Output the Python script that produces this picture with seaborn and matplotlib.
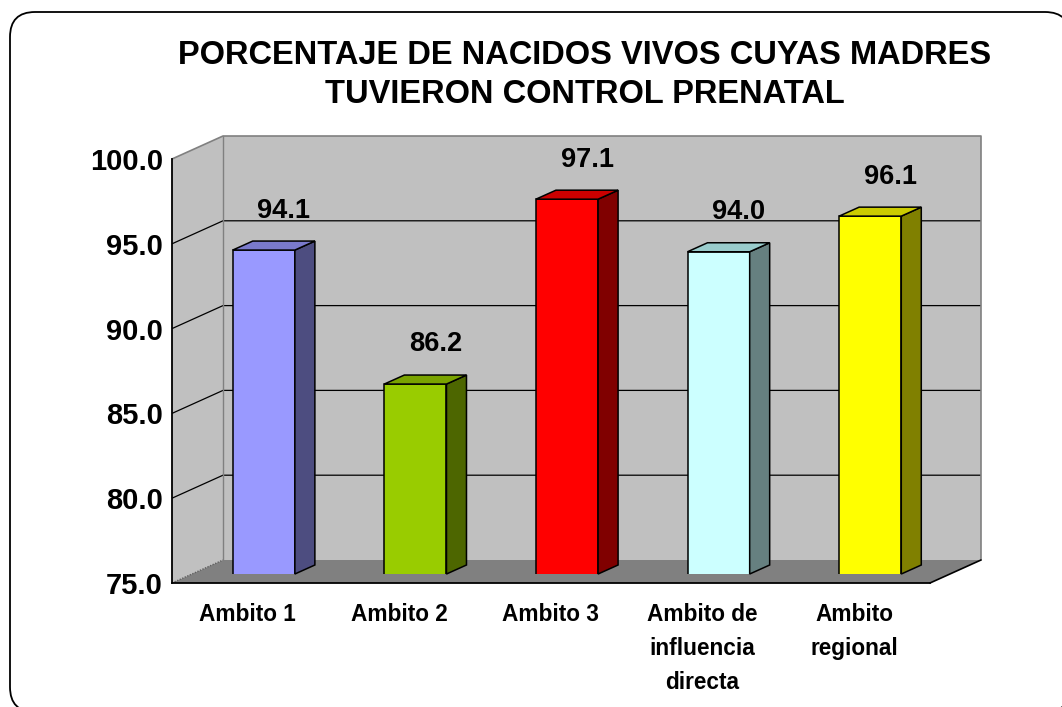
import numpy as np
import matplotlib
matplotlib.use("Agg")
import matplotlib.pyplot as plt
import seaborn as sns
from matplotlib.patches import Polygon, FancyBboxPatch

# ---------------- data ----------------
categories = ["Ambito 1", "Ambito 2", "Ambito 3",
              "Ambito de\ninfluencia\ndirecta", "Ambito\nregional"]
values = [94.1, 86.2, 97.1, 94.0, 96.1]
front_colors = ["#9999FF", "#99CC00", "#FF0000", "#CCFFFF", "#FFFF00"]
side_colors = ["#4D4D80", "#4D6600", "#800000", "#668080", "#808000"]
top_colors = ["#7A7ACC", "#7AA300", "#CC0000", "#99CCCC", "#CCCC00"]
y_ticks = [75.0, 80.0, 85.0, 90.0, 95.0, 100.0]
title_lines = ["PORCENTAJE DE NACIDOS VIVOS CUYAS MADRES",
               "TUVIERON CONTROL PRENATAL"]

sns.set_style("white")
plt.rcParams["font.family"] = ["Liberation Sans", "DejaVu Sans"]
plt.rcParams["text.color"] = "black"
plt.rcParams["xtick.color"] = "black"
plt.rcParams["ytick.color"] = "black"
plt.rcParams["xtick.labelcolor"] = "black"
plt.rcParams["ytick.labelcolor"] = "black"
plt.rcParams["axes.labelcolor"] = "black"

W, H = 1062, 707
fig = plt.figure(figsize=(W / 100, H / 100), dpi=100)

# ---------------- frame ----------------
fr = fig.add_axes([0, 0, 1, 1], zorder=-5)
fr.set_xlim(0, W)
fr.set_ylim(H, 0)
fr.axis("off")
fr.add_patch(FancyBboxPatch((14, 16), 1060, 700,
                            boxstyle="round,pad=0,rounding_size=25",
                            fc="black", ec="black", lw=0))
fr.add_patch(FancyBboxPatch((10, 12), 1060, 700,
                            boxstyle="round,pad=0,rounding_size=25",
                            fc="white", ec="black", lw=1.3))

# ---------------- geometry ----------------
X0, X1 = 172, 930     # front plane x pixels
YT, YB = 159, 583     # front plane y pixels (100 / 75)
ymin, ymax = y_ticks[0], y_ticks[-1]
ncat = len(categories)
ux = (X1 - X0) / ncat
uy = (YB - YT) / (ymax - ymin)
DX, DY = 51 / ux, 23 / uy          # full depth offset (data units)
BSX, BSY = 16, 9                    # bar plane offset in pixels
BDX, BDY = 20 / ux, 9 / uy          # bar depth (data units)

ax = fig.add_axes([X0 / W, 1 - YB / H, (X1 - X0) / W, (YB - YT) / H], zorder=1)
ax.set_xlim(-0.5, ncat - 0.5)
ax.set_ylim(ymin, ymax)
ax.patch.set_alpha(0)

xl, xr = -0.5, ncat - 0.5
wall = "#C0C0C0"
edge_gray = "#808080"
# back wall
ax.add_patch(Polygon([(xl + DX, ymin + DY), (xr + DX, ymin + DY),
                      (xr + DX, ymax + DY), (xl + DX, ymax + DY)],
                     closed=True, fc=wall, ec="none", clip_on=False, zorder=0))
# left wall
ax.add_patch(Polygon([(xl, ymin), (xl + DX, ymin + DY),
                      (xl + DX, ymax + DY), (xl, ymax)],
                     closed=True, fc=wall, ec="none", clip_on=False, zorder=0))
# floor
ax.add_patch(Polygon([(xl, ymin), (xr, ymin), (xr + DX, ymin + DY), (xl + DX, ymin + DY)],
                     closed=True, fc="#808080", ec="none", clip_on=False, zorder=0.5))
# gridlines
for v in y_ticks[1:-1]:
    ax.plot([xl, xl + DX, xr + DX], [v, v + DY, v + DY], color="black", lw=0.9,
            clip_on=False, zorder=0.6, solid_capstyle="butt")
# wall edges
ax.plot([xl, xl + DX, xr + DX, xr + DX], [ymax, ymax + DY, ymax + DY, ymin + DY],
        color=edge_gray, lw=1.2, clip_on=False, zorder=0.6)
ax.plot([xl + DX, xl + DX], [ymin + DY, ymax + DY], color=edge_gray, lw=1.0,
        clip_on=False, zorder=0.6)
ax.plot([xl, xl + DX], [ymin, ymin + DY], color="#606060", lw=1.0, ls=(0, (1, 1)),
        clip_on=False, zorder=0.6)
ax.plot([xr, xr + DX], [ymin, ymin + DY], color="black", lw=1.2,
        clip_on=False, zorder=0.7)

# axes spines & ticks
for s in ["top", "right"]:
    ax.spines[s].set_visible(False)
for s in ["left", "bottom"]:
    ax.spines[s].set_color("black")
    ax.spines[s].set_linewidth(1.3)
ax.set_yticks(y_ticks, labels=[f"{t:.1f}" for t in y_ticks])
ax.tick_params(axis="y", direction="out", length=4.5, width=1.1, color="black",
               labelcolor="black", pad=2, labelsize=21)
for lab in ax.get_yticklabels():
    lab.set_fontweight("bold")
ax.set_xticks(np.arange(-0.5, ncat, 1.0), labels=[""] * (ncat + 1))
ax.tick_params(axis="x", which="major", direction="out", length=6, width=1.1, color="black")
ax.set_xticks(np.arange(ncat), labels=categories, minor=True)
ax.tick_params(axis="x", which="minor", length=0, pad=14.5, labelsize=16.3,
               labelcolor="black")
for lab in ax.get_xticklabels(minor=True):
    lab.set_fontweight("bold")
    lab.set_linespacing(1.6)
    lab.set_verticalalignment("top")
ax.grid(False)

# ---------------- bars (seaborn) ----------------
bx = fig.add_axes([(X0 + BSX) / W, 1 - (YB - BSY) / H, (X1 - X0) / W, (YB - YT) / H],
                  zorder=2)
pal = dict(zip(categories, front_colors))
sns.barplot(x=categories, y=values, hue=categories, palette=pal, legend=False,
            width=0.41, saturation=1, edgecolor="black", linewidth=1.1, ax=bx)
bx.set_xlim(-0.5, ncat - 0.5)
bx.set_ylim(ymin, ymax)
bx.axis("off")
bx.patch.set_alpha(0)

bars = sorted(bx.patches, key=lambda p: p.get_x())
for i, p in enumerate(bars):
    x0 = p.get_x()
    x1 = x0 + p.get_width()
    h = p.get_y() + p.get_height()
    side = Polygon([(x1, ymin), (x1 + BDX, ymin + BDY), (x1 + BDX, h + BDY), (x1, h)],
                   closed=True, fc=side_colors[i], ec="black", lw=1.1, clip_on=False, zorder=3)
    top = Polygon([(x0, h), (x1, h), (x1 + BDX, h + BDY), (x0 + BDX, h + BDY)],
                  closed=True, fc=top_colors[i], ec="black", lw=1.1, clip_on=False, zorder=3)
    bx.add_patch(side)
    bx.add_patch(top)
    bx.annotate(f"{values[i]:.1f}", xy=(x0 + p.get_width() / 2 + BDX, h + BDY),
                xytext=(0, 22), textcoords="offset points", ha="center", va="center",
                fontsize=19.6, fontweight="bold", color="black",
                annotation_clip=False, zorder=4)

# ---------------- title ----------------
fig.text(585 / W, 1 - 75 / H, "\n".join(title_lines), ha="center", va="center",
         fontsize=23.5, fontweight="bold", linespacing=1.3, color="black")

fig.savefig("out.png", dpi=100)
